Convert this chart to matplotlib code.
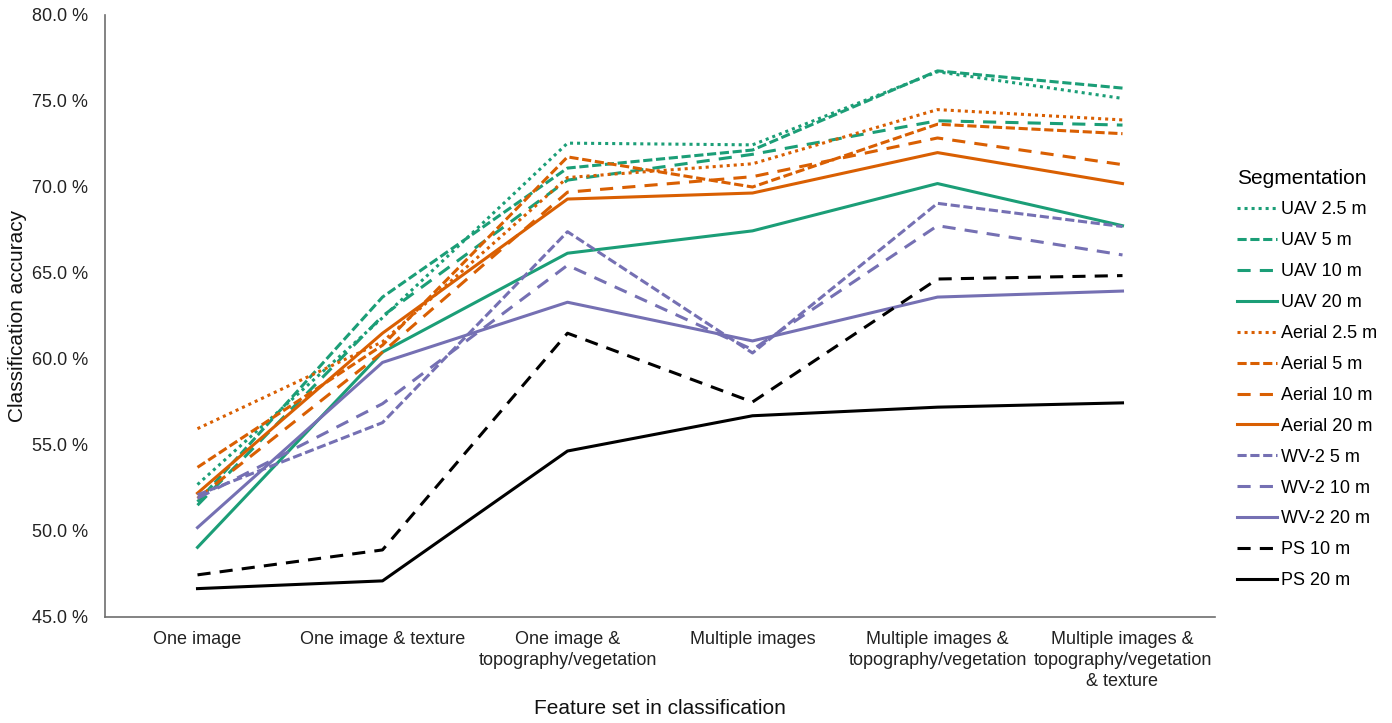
import matplotlib.pyplot as plt
from matplotlib.ticker import FuncFormatter

plt.rcParams['font.family'] = ['Liberation Sans', 'DejaVu Sans']

categories = ['One image', 'One image & texture', 'One image &\ntopography/vegetation',
              'Multiple images', 'Multiple images &\ntopography/vegetation',
              'Multiple images &\ntopography/vegetation\n& texture']

uav_25 = [52.7, 62.4, 72.55, 72.45, 76.7, 75.15]
uav_5 = [51.7, 63.6, 71.1, 72.15, 76.75, 75.75]
uav_10 = [51.5, 62.5, 70.4, 71.9, 73.85, 73.6]
uav_20 = [49.05, 60.4, 66.15, 67.45, 70.2, 67.75]
aerial_25 = [55.95, 61.0, 70.55, 71.35, 74.5, 73.9]
aerial_5 = [53.7, 60.8, 71.75, 70.0, 73.65, 73.1]
aerial_10 = [51.9, 60.4, 69.7, 70.6, 72.85, 71.3]
aerial_20 = [52.2, 61.5, 69.3, 69.65, 72.0, 70.2]
wv2_5 = [52.1, 56.3, 67.4, 60.35, 69.05, 67.7]
wv2_10 = [51.9, 57.4, 65.45, 60.55, 67.75, 66.05]
wv2_20 = [50.2, 59.8, 63.3, 61.05, 63.6, 63.95]
ps_10 = [47.45, 48.9, 61.5, 57.5, 64.65, 64.85]
ps_20 = [46.65, 47.1, 54.65, 56.7, 57.2, 57.45]

green = '#1b9e77'
orange = '#d95f02'
purple = '#7570b3'
black = '#000000'

dot = (0, (1, 1.3))
dash = (0, (3, 1.2))
long_dash = (0, (4.3, 3))
solid = '-'

# label, values, colour, linestyle
series = [
    ('UAV 2.5 m', uav_25, green, dot),
    ('UAV 5 m', uav_5, green, dash),
    ('UAV 10 m', uav_10, green, long_dash),
    ('UAV 20 m', uav_20, green, solid),
    ('Aerial 2.5 m', aerial_25, orange, dot),
    ('Aerial 5 m', aerial_5, orange, dash),
    ('Aerial 10 m', aerial_10, orange, long_dash),
    ('Aerial 20 m', aerial_20, orange, solid),
    ('WV-2 5 m', wv2_5, purple, dash),
    ('WV-2 10 m', wv2_10, purple, long_dash),
    ('WV-2 20 m', wv2_20, purple, solid),
    ('PS 10 m', ps_10, black, long_dash),
    ('PS 20 m', ps_20, black, solid),
]

fig = plt.figure(figsize=(13.92, 7.23), dpi=100)
ax = fig.add_axes([105 / 1392, 1 - 617 / 723, 1110 / 1392, 602 / 723])

x = range(len(categories))
for label, vals, col, ls in series:
    ax.plot(x, vals, color=col, linestyle=ls, linewidth=2.2, label=label)

ax.set_xlim(-0.5, len(categories) - 0.5)
ax.set_ylim(45, 80)
ax.set_yticks([45, 50, 55, 60, 65, 70, 75, 80])
ax.yaxis.set_major_formatter(FuncFormatter(lambda v, p: '%.1f %%' % v))
ax.set_xticks(list(x))
ax.set_xticklabels(categories, fontsize=13, color='#222222', linespacing=1.3)
ax.tick_params(axis='y', labelsize=13, labelcolor='#222222', length=0, pad=12)
ax.tick_params(axis='x', length=0, pad=10)

for side in ['top', 'right']:
    ax.spines[side].set_visible(False)
for side in ['left', 'bottom']:
    ax.spines[side].set_color('#6e6e6e')
    ax.spines[side].set_linewidth(1.2)

ax.set_ylabel('Classification accuracy', fontsize=15, color='#111111')
ax.yaxis.set_label_coords(-0.070, 0.5)
ax.set_xlabel('Feature set in classification', fontsize=15, color='#111111')
ax.xaxis.set_label_coords(0.5, -0.136)

leg = ax.legend(loc='upper left', bbox_to_anchor=(1.005, 0.772), frameon=False,
                fontsize=13, title='Segmentation', title_fontsize=15,
                handlelength=2.2, handletextpad=0.25, labelspacing=0.77,
                alignment='left')

fig.savefig('out.png', dpi=100)
plt.close()
